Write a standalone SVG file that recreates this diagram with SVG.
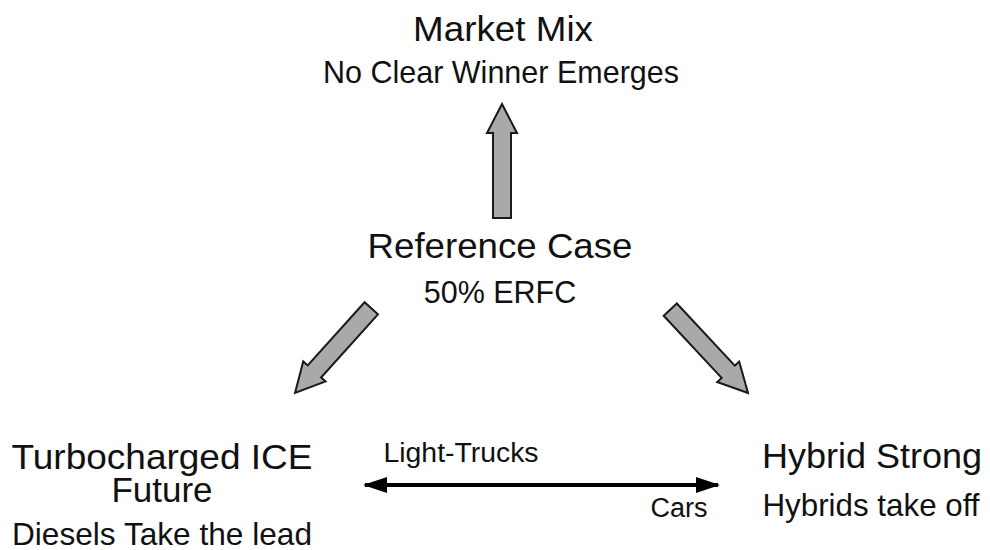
<svg xmlns="http://www.w3.org/2000/svg" width="990" height="550" viewBox="0 0 990 550">
<style>
text{font-family:"Liberation Sans",Arial,sans-serif;fill:#111;text-anchor:middle}
.t{font-size:35px}
.s{font-size:30.5px}
.l{font-size:27px}
.fat{fill:#a9a9a9;stroke:#1a1a1a;stroke-width:2;stroke-linejoin:miter}
</style>
<defs>
<polygon id="fatArrow" points="0,0 15,29 9,29 9,114 -9,114 -9,29 -15,29"/>
<marker id="head" viewBox="0 0 24 16" refX="22" refY="8" markerWidth="24" markerHeight="16" markerUnits="userSpaceOnUse" orient="auto-start-reverse">
<path d="M0,0 L24,8 L0,16 Z" fill="#000"/>
</marker>
</defs>
<rect width="990" height="550" fill="#fff"/>
<g id="market-mix">
<text class="t" x="503" y="41" textLength="180" lengthAdjust="spacingAndGlyphs">Market Mix</text>
<text class="s" x="501" y="83">No Clear Winner Emerges</text>
</g>
<g id="reference-case">
<text class="t" x="500" y="258" textLength="265" lengthAdjust="spacingAndGlyphs">Reference Case</text>
<text class="s" x="500" y="303">50% ERFC</text>
</g>
<g id="turbocharged">
<text class="t" x="162" y="469" textLength="301" lengthAdjust="spacingAndGlyphs">Turbocharged ICE</text>
<text class="t" x="162" y="502">Future</text>
<text class="s" x="162" y="545" textLength="300" lengthAdjust="spacingAndGlyphs">Diesels Take the lead</text>
</g>
<g id="hybrid-strong">
<text class="t" x="872" y="468" textLength="220" lengthAdjust="spacingAndGlyphs">Hybrid Strong</text>
<text class="s" x="871" y="516" textLength="217" lengthAdjust="spacingAndGlyphs">Hybrids take off</text>
</g>
<g id="connectors">
<use href="#fatArrow" class="fat" transform="translate(502,104)"/>
<use href="#fatArrow" class="fat" transform="translate(295,393) rotate(222)"/>
<use href="#fatArrow" class="fat" transform="translate(748,393) rotate(137)"/>
<line x1="365" y1="485" x2="718" y2="485" stroke="#000" stroke-width="4" marker-start="url(#head)" marker-end="url(#head)"/>
<text class="l" x="461" y="462" textLength="155" lengthAdjust="spacingAndGlyphs">Light-Trucks</text>
<text class="l" x="679" y="517" textLength="57" lengthAdjust="spacingAndGlyphs">Cars</text>
</g>
</svg>
